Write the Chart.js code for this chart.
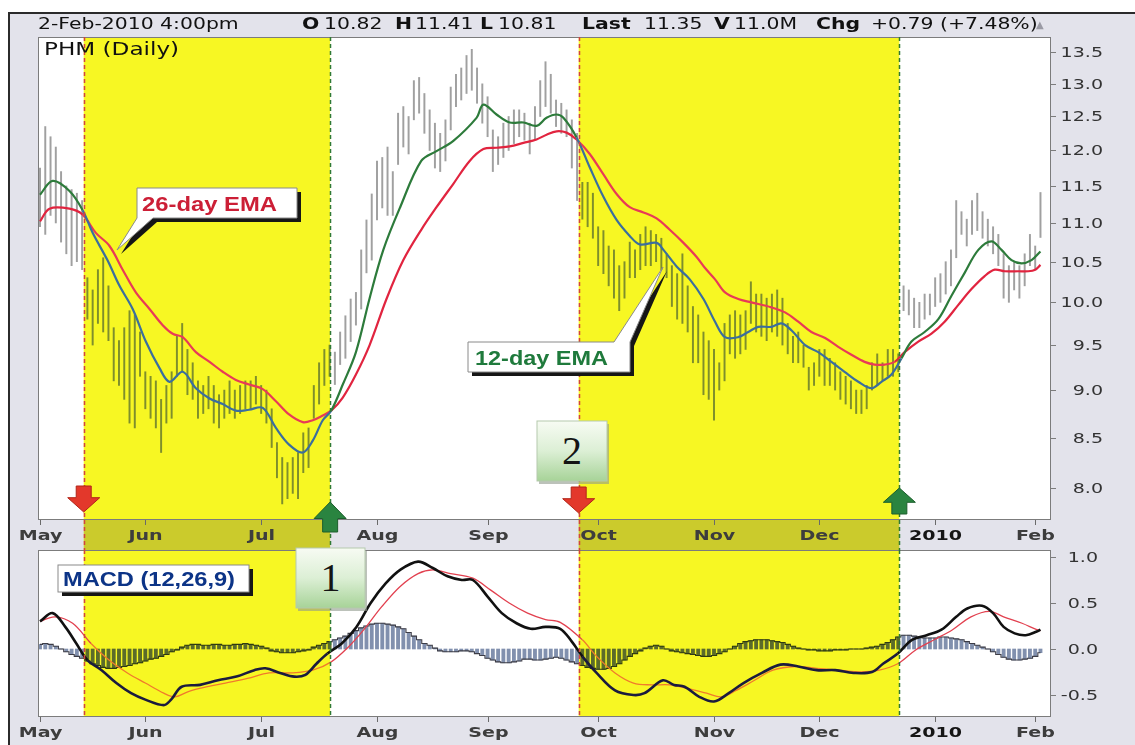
<!DOCTYPE html>
<html>
<head>
<meta charset="utf-8">
<title>PHM (Daily) - MACD centre line crossovers</title>
<script src="https://cdn.jsdelivr.net/npm/chart.js@4.4.1/dist/chart.umd.min.js"></script>
<style>
  html, body { margin: 0; padding: 0; background: #fff; }
  #page { position: relative; width: 1135px; height: 745px; overflow: hidden; }
  #frame { position: absolute; left: 8px; top: 12px; right: 0; bottom: 0; background: #e3e3eb;
           border-top: 2px solid #2b2b2b; border-left: 2px solid #2b2b2b; }
  canvas, svg { position: absolute; left: 0; top: 0; }
</style>
</head>
<body>
<div id="page">
  <div id="frame"></div>
  <canvas id="price" width="1135" height="745"></canvas>
  <canvas id="macd" width="1135" height="745"></canvas>
  <svg id="notes" width="1135" height="745">
    <defs>
      <linearGradient id="mint" x1="0" y1="0" x2="0" y2="1">
        <stop offset="0" stop-color="#f7fbf3"/>
        <stop offset="0.5" stop-color="#dcefd5"/>
        <stop offset="1" stop-color="#a7d398"/>
      </linearGradient>
    </defs>
    <!-- quote line -->
    <g font-family="DejaVu Sans, sans-serif" font-size="15" fill="#111">
      <text transform="translate(38 29) scale(1.36 1)">2-Feb-2010 4:00pm</text>
      <text transform="translate(302 29) scale(1.36 1)" font-weight="bold">O</text>
      <text transform="translate(324 29) scale(1.36 1)">10.82</text>
      <text transform="translate(395 29) scale(1.36 1)" font-weight="bold">H</text>
      <text transform="translate(415 29) scale(1.36 1)">11.41</text>
      <text transform="translate(480 29) scale(1.36 1)" font-weight="bold">L</text>
      <text transform="translate(498 29) scale(1.36 1)">10.81</text>
      <text transform="translate(582 29) scale(1.36 1)" font-weight="bold">Last</text>
      <text transform="translate(644 29) scale(1.36 1)">11.35</text>
      <text transform="translate(714 29) scale(1.36 1)" font-weight="bold">V</text>
      <text transform="translate(734 29) scale(1.36 1)">11.0M</text>
      <text transform="translate(816 29) scale(1.36 1)" font-weight="bold">Chg</text>
      <text transform="translate(871 29) scale(1.36 1)">+0.79 (+7.48%)</text>
      <text x="1036" y="28" font-size="10" fill="#9a9aa4">▲</text>
      <text transform="translate(44 55) scale(1.36 1)" font-size="17">PHM (Daily)</text>
    </g>
    <!-- callouts -->
    <g font-family="Liberation Sans, Arial, sans-serif" font-weight="bold" font-size="20">
      <path d="M141 192 H301 V222 H157 L121 254 L141 222 Z" fill="#161616"/>
      <path d="M137 188 H297 V218 H153 L117 250 L137 218 Z" fill="#fff" stroke="#8a8a8a" stroke-width="1"/>
      <text x="142" y="211" fill="#cc1f36" textLength="135" lengthAdjust="spacingAndGlyphs">26-day EMA</text>

      <path d="M472 346 H618 L667 271 L634 346 V376 H472 Z" fill="#161616"/>
      <path d="M468 342 H614 L663 267 L630 342 V372 H468 Z" fill="#fff" stroke="#8a8a8a" stroke-width="1"/>
      <text x="475" y="365" fill="#1f7a3c" textLength="133" lengthAdjust="spacingAndGlyphs">12-day EMA</text>

      <rect x="62" y="569" width="191" height="27" fill="#161616"/>
      <rect x="58" y="565" width="191" height="27" fill="#fff" stroke="#8a8a8a" stroke-width="1"/>
      <text x="63" y="586" fill="#0c3487" textLength="172" lengthAdjust="spacingAndGlyphs">MACD (12,26,9)</text>
    </g>
    <g font-family="Liberation Serif, serif" font-size="40" fill="#141414" text-anchor="middle">
      <rect x="298" y="551" width="69" height="60" fill="#8f9a8c" opacity="0.6"/>
      <rect x="296" y="548" width="69" height="60" fill="url(#mint)" stroke="#b5c9ad" stroke-width="1"/>
      <text x="330.5" y="591">1</text>
      <rect x="539" y="424" width="70" height="60" fill="#8f9a8c" opacity="0.6"/>
      <rect x="537" y="421" width="70" height="60" fill="url(#mint)" stroke="#b5c9ad" stroke-width="1"/>
      <text x="572" y="464">2</text>
    </g>
  </svg>
</div>
<script>
// trading-day index: 0 = 1 May 2009 ... 190 = 2 Feb 2010
const monthDays   = [0, 20, 42, 64, 85, 106, 128, 148, 170, 189];
const monthLabels = ['May', 'Jun', 'Jul', 'Aug', 'Sep', 'Oct', 'Nov', 'Dec', '2010', 'Feb'];
const priceTicks  = [8.0, 8.5, 9.0, 9.5, 10.0, 10.5, 11.0, 11.5, 12.0, 12.5, 13.0, 13.5];
const macdTicks   = [-0.5, 0.0, 0.5, 1.0];

// MACD crossing the centre line: sell (red) then buy (green)
const sellDays = [8.3, 102.3];
const buyDays  = [55.1, 163.2];

// daily high-low bars
const barLow = [
  10.95, 10.85, 11.10, 11.00, 10.75, 10.60, 10.45, 10.50, 10.40, 9.80,
  9.50, 9.75, 9.65, 9.55, 9.10, 9.05, 8.90, 8.65, 8.60, 9.15,
  8.80, 8.70, 8.60, 8.35, 8.65, 8.70, 9.15, 9.20, 8.95, 8.90,
  8.70, 8.75, 8.80, 8.65, 8.60, 8.70, 8.75, 8.70, 8.75, 8.80,
  8.80, 8.85, 8.75, 8.65, 8.40, 8.10, 7.85, 7.90, 7.95, 7.90,
  8.15, 8.20, 8.70, 8.85, 9.05, 9.15, 9.06, 9.28, 9.35, 9.54,
  9.73, 9.92, 10.36, 10.52, 11.04, 11.20, 11.10, 11.10, 11.80, 12.05,
  11.95, 12.45, 12.55, 12.25, 12.00, 11.75, 11.70, 11.85, 12.30, 12.65,
  12.75, 12.85, 12.90, 12.70, 12.40, 12.20, 11.70, 11.80, 11.90, 12.00,
  12.10, 12.20, 12.15, 11.95, 12.15, 12.50, 12.65, 12.55, 12.35, 12.25,
  12.20, 11.75, 11.30, 11.05, 10.95, 10.80, 10.45, 10.35, 10.20, 10.05,
  9.90, 10.05, 10.30, 10.30, 10.40, 10.45, 10.45, 10.50, 10.40, 10.30,
  9.95, 9.80, 9.75, 9.65, 9.30, 9.30, 8.95, 8.90, 8.68, 9.00,
  9.10, 9.40, 9.35, 9.40, 9.45, 9.75, 9.65, 9.60, 9.55, 9.65,
  9.60, 9.50, 9.40, 9.30, 9.30, 9.25, 9.00, 9.05, 9.15, 9.05,
  9.05, 9.00, 8.90, 8.85, 8.80, 8.75, 8.75, 8.80, 9.00, 9.05,
  9.10, 9.15, 9.15, 9.20, 9.90, 9.85, 9.70, 9.70, 9.80, 9.85,
  9.95, 10.00, 10.10, 10.20, 10.55, 10.85, 10.70, 10.85, 10.90, 10.80,
  10.70, 10.60, 10.45, 10.05, 10.00, 10.15, 10.05, 10.20, 10.45, 10.40,
  10.81
];
const barHigh = [
  11.75, 12.35, 12.20, 12.05, 11.70, 11.50, 11.45, 11.40, 11.30, 10.30,
  10.15, 10.40, 10.55, 10.20, 9.70, 9.55, 9.70, 9.90, 9.85, 9.65,
  9.20, 9.15, 9.10, 8.90, 9.05, 9.20, 9.60, 9.75, 9.45, 9.30,
  9.10, 9.05, 9.15, 9.05, 8.95, 9.00, 9.10, 9.00, 9.05, 9.10,
  9.10, 9.15, 9.05, 9.00, 8.80, 8.45, 8.30, 8.25, 8.30, 8.35,
  8.55, 8.60, 9.05, 9.30, 9.45, 9.50, 9.42, 9.65, 9.84, 10.04,
  10.12, 10.65, 11.04, 11.39, 11.85, 11.90, 12.05, 11.70, 12.55, 12.65,
  12.50, 13.05, 13.10, 12.85, 12.60, 12.40, 12.25, 12.45, 12.95, 13.15,
  13.25, 13.45, 13.55, 13.25, 13.00, 12.80, 12.30, 12.20, 12.40, 12.50,
  12.60, 12.60, 12.55, 12.40, 12.65, 13.05, 13.35, 13.15, 12.75, 12.70,
  12.60, 12.45, 12.25, 11.55, 11.55, 11.40, 10.95, 10.90, 10.70, 10.65,
  10.45, 10.50, 10.75, 10.65, 10.85, 10.95, 10.90, 10.85, 10.80, 10.60,
  10.45, 10.35, 10.60, 10.20, 9.95, 9.85, 9.65, 9.55, 9.45, 9.30,
  9.75, 9.85, 9.90, 9.85, 9.90, 10.25, 10.10, 10.10, 10.05, 10.10,
  10.15, 10.05, 9.75, 9.60, 9.65, 9.50, 9.25, 9.30, 9.45, 9.45,
  9.35, 9.30, 9.20, 9.15, 9.10, 9.00, 9.00, 9.05, 9.30, 9.40,
  9.30, 9.45, 9.45, 9.40, 10.20, 10.15, 10.05, 10.00, 10.10, 10.10,
  10.30, 10.35, 10.50, 10.65, 11.30, 11.15, 11.05, 11.30, 11.40, 11.15,
  11.05, 10.95, 10.85, 10.60, 10.45, 10.50, 10.45, 10.60, 10.85, 10.70,
  11.41
];

// moving averages (read at irregular days)
const ema12Days = [0, 2.4, 5.6, 8.1, 10, 12.8, 15.1, 17.6, 20.1, 22.7, 24.6, 27.1, 29.6, 32.2, 34.7, 37.2, 39.7, 42.3, 44.8, 47.3, 49.9, 51.8, 53.7, 55.3, 57.5, 60, 62.6, 65.2, 68.4, 72.4, 75.3, 78.5, 82.9, 84.2, 86.7, 89.2, 91.8, 94.3, 96.2, 98.1, 99.4, 101.9, 104.4, 107, 109.5, 112, 113.9, 117.1, 118.4, 120.9, 123.4, 126, 128.2, 130.1, 132.6, 134.5, 136.4, 138.9, 140.8, 142.7, 145.3, 147.8, 150.3, 152.8, 155.4, 157.9, 159.8, 161.7, 163.6, 165.5, 168, 170.6, 173.1, 175.6, 178.2, 180.7, 182.6, 184.5, 186.4, 188.3, 190];
const ema12Vals = [11.38, 11.57, 11.43, 11.17, 10.87, 10.52, 10.20, 9.92, 9.54, 9.24, 9.09, 9.20, 9.02, 8.91, 8.85, 8.78, 8.79, 8.81, 8.60, 8.43, 8.35, 8.47, 8.68, 8.78, 9.06, 9.42, 10.05, 10.65, 11.21, 11.85, 11.99, 12.14, 12.48, 12.68, 12.53, 12.41, 12.41, 12.36, 12.48, 12.53, 12.48, 12.19, 11.76, 11.35, 11.04, 10.83, 10.72, 10.74, 10.65, 10.44, 10.28, 10.04, 9.77, 9.59, 9.59, 9.65, 9.71, 9.71, 9.75, 9.67, 9.50, 9.42, 9.31, 9.20, 9.09, 9.02, 9.09, 9.17, 9.35, 9.54, 9.65, 9.80, 10.08, 10.36, 10.65, 10.76, 10.65, 10.52, 10.48, 10.52, 10.63];
const ema26Days = [0, 1.8, 5.6, 8.1, 10.6, 13.2, 15.7, 18.2, 20.8, 23.3, 25.2, 27.1, 29.6, 32.2, 34.7, 37.2, 39.7, 42.3, 44.8, 47.3, 49.9, 51.8, 53.7, 55.3, 57.5, 60, 62.6, 65.8, 69, 72.4, 75.3, 78.5, 81.6, 84.2, 86.7, 89.2, 91.8, 94.3, 96.2, 98.1, 100, 101.9, 104.4, 107, 109.5, 112, 114.6, 117.1, 119.6, 122.2, 124.7, 126.3, 128.2, 130.1, 132.6, 135.1, 138.9, 141.5, 144, 146.5, 149.1, 151.6, 154.1, 156.6, 158.5, 160.4, 162.3, 164.2, 166.8, 169.3, 171.8, 174.4, 176.9, 179.4, 181.3, 183.2, 185.8, 187.7, 189, 190];
const ema26Vals = [11.02, 11.19, 11.19, 11.11, 10.87, 10.70, 10.40, 10.12, 9.92, 9.73, 9.63, 9.59, 9.42, 9.31, 9.20, 9.11, 9.06, 9.01, 8.88, 8.74, 8.66, 8.68, 8.73, 8.78, 8.92, 9.17, 9.50, 10.04, 10.52, 10.91, 11.21, 11.53, 11.85, 12.02, 12.04, 12.06, 12.11, 12.16, 12.23, 12.28, 12.26, 12.16, 11.95, 11.66, 11.39, 11.21, 11.14, 11.06, 10.91, 10.74, 10.56, 10.42, 10.28, 10.12, 10.04, 10.00, 9.94, 9.88, 9.77, 9.65, 9.58, 9.48, 9.39, 9.31, 9.28, 9.28, 9.31, 9.42, 9.54, 9.63, 9.77, 9.97, 10.16, 10.32, 10.40, 10.38, 10.38, 10.38, 10.40, 10.46];

// MACD (12,26,9)
const macdDays = [0, 2.4, 4.8, 6.9, 9, 11.7, 14.5, 17.3, 20, 23.5, 24.9, 26.9, 30.4, 33.8, 37.3, 40.7, 42.8, 45.6, 48.3, 50.4, 52.5, 54.6, 57.3, 60.1, 62.8, 65.6, 68.4, 71.8, 74.6, 77.4, 80.1, 82.2, 85, 87.7, 90.5, 93.2, 96, 98.8, 101, 103, 105.7, 109.2, 112.7, 114.8, 118.3, 120.4, 122.4, 125.2, 128, 130.8, 133.6, 137.1, 140.6, 144, 147.5, 151, 154.5, 158, 160.1, 162.9, 165.6, 168.4, 171.2, 174, 176.1, 178.9, 181, 183, 185.1, 187.2, 189.3, 190];
const macdVals = [0.30, 0.39, 0.24, 0.06, -0.12, -0.23, -0.37, -0.48, -0.55, -0.61, -0.55, -0.41, -0.39, -0.34, -0.30, -0.23, -0.21, -0.26, -0.30, -0.28, -0.16, -0.05, 0.06, 0.24, 0.50, 0.71, 0.86, 0.95, 0.88, 0.79, 0.75, 0.75, 0.57, 0.39, 0.28, 0.22, 0.24, 0.22, 0.08, -0.08, -0.26, -0.45, -0.50, -0.48, -0.34, -0.39, -0.41, -0.52, -0.57, -0.48, -0.37, -0.26, -0.17, -0.19, -0.23, -0.23, -0.26, -0.25, -0.16, -0.05, 0.10, 0.15, 0.21, 0.35, 0.44, 0.47, 0.39, 0.24, 0.17, 0.15, 0.19, 0.21];
const signalDays = [0, 2.8, 6.2, 9.7, 13.1, 16.6, 20, 23.5, 25.6, 28.3, 31.8, 35.2, 39.4, 43.5, 47.7, 51.8, 55.3, 58.7, 61.5, 64.9, 68.4, 71.8, 74.6, 78, 82.2, 85.6, 89.1, 92.6, 96, 98.8, 103, 105.7, 109.2, 112.7, 116.2, 119.6, 123.1, 126.6, 129.4, 132.2, 135.7, 139.2, 143.4, 147.5, 151.7, 155.9, 159.4, 162.9, 166.3, 169.8, 173.3, 176.8, 180.3, 183, 186.5, 189.3, 190];
const signalVals = [0.30, 0.35, 0.28, 0.06, -0.12, -0.26, -0.37, -0.48, -0.52, -0.46, -0.41, -0.37, -0.32, -0.26, -0.26, -0.23, -0.14, 0.03, 0.21, 0.46, 0.68, 0.82, 0.86, 0.82, 0.77, 0.64, 0.50, 0.39, 0.32, 0.29, 0.10, -0.08, -0.26, -0.37, -0.39, -0.39, -0.43, -0.48, -0.52, -0.45, -0.34, -0.23, -0.19, -0.21, -0.23, -0.25, -0.23, -0.16, -0.01, 0.10, 0.21, 0.35, 0.41, 0.35, 0.28, 0.21, 0.20];
// histogram, one value per trading day
const histVals = [
  0.05, 0.06, 0.05, 0.03, 0.00, -0.03, -0.06, -0.08, -0.10,
  -0.13, -0.16, -0.18, -0.20, -0.21, -0.21, -0.20, -0.19,
  -0.18, -0.16, -0.15, -0.13, -0.11, -0.10, -0.08, -0.06, -0.03, -0.01,
  0.02, 0.04, 0.05, 0.05, 0.04, 0.04, 0.05, 0.05, 0.04, 0.04,
  0.05, 0.05, 0.06, 0.05, 0.04, 0.03, 0.01, -0.02,
  -0.03, -0.04, -0.04, -0.04, -0.03, -0.02, -0.01,
  0.02, 0.04, 0.06, 0.08, 0.10,
  0.12, 0.14, 0.17, 0.20, 0.23, 0.25, 0.27,
  0.28, 0.28, 0.27, 0.26, 0.24, 0.22,
  0.18, 0.14, 0.10, 0.06, 0.04, 0.01,
  -0.02, -0.03, -0.03, -0.03, -0.02, -0.02, -0.03, -0.05, -0.07,
  -0.10, -0.12, -0.14, -0.15, -0.15, -0.14, -0.13, -0.11, -0.11, -0.12, -0.12,
  -0.11, -0.10, -0.09, -0.10, -0.12, -0.14,
  -0.16, -0.18, -0.20, -0.21, -0.22, -0.22, -0.21, -0.19, -0.16,
  -0.12, -0.08, -0.05, -0.02, 0.01, 0.03, 0.04, 0.03,
  0.00, -0.02, -0.03, -0.04, -0.05, -0.06, -0.07, -0.08, -0.08, -0.07, -0.05, -0.03, 0.00,
  0.03, 0.06, 0.08, 0.09, 0.10, 0.10, 0.10, 0.09, 0.08, 0.07, 0.05, 0.03, 0.01,
  0.00, -0.01, -0.01, -0.02, -0.02, -0.02, -0.01, -0.01, -0.01, 0.00, 0.00, 0.00, 0.01, 0.02, 0.03, 0.05,
  0.07, 0.10, 0.13, 0.15, 0.15, 0.14, 0.13, 0.12, 0.12, 0.12, 0.13,
  0.13, 0.12, 0.11, 0.10, 0.08, 0.06, 0.04, 0.02, 0.00, -0.03,
  -0.06, -0.09, -0.11, -0.12, -0.12, -0.11, -0.10, -0.08, -0.04
];

const YELLOW = '#f7f723';
const GAP = 30;      // date strip between the two panels
const SX = 1.36;     // the picture is stretched sideways

function inSignal(d) {
  for (let k = 0; k < sellDays.length; k++) {
    if (d >= sellDays[k] && d <= buyDays[k]) return true;
  }
  return false;
}

function series(days, vals) {
  return days.map((d, i) => ({ x: d, y: vals[i] }));
}

function twoTone(plain, lit) {
  return c => inSignal((c.p0.parsed.x + c.p1.parsed.x) / 2) ? lit : plain;
}

function wideText(ctx, txt, x, y, align, font, color) {
  ctx.save();
  ctx.font = font;
  ctx.fillStyle = color;
  ctx.textBaseline = 'middle';
  ctx.textAlign = 'left';
  const w = ctx.measureText(txt).width * SX;
  const left = align === 'right' ? x - w : align === 'center' ? x - w / 2 : x;
  ctx.translate(left, y);
  ctx.scale(SX, 1);
  ctx.fillText(txt, 0, 0);
  ctx.restore();
}

function signalLines(ctx, x, top, bottom) {
  ctx.save();
  ctx.lineWidth = 1.5;
  ctx.setLineDash([4, 3]);
  sellDays.forEach(d => {
    const px = Math.round(x.getPixelForValue(d)) + 0.5;
    ctx.strokeStyle = '#d2433f';
    ctx.beginPath(); ctx.moveTo(px, top); ctx.lineTo(px, bottom); ctx.stroke();
  });
  buyDays.forEach(d => {
    const px = Math.round(x.getPixelForValue(d)) + 0.5;
    ctx.strokeStyle = '#2f7a35';
    ctx.beginPath(); ctx.moveTo(px, top); ctx.lineTo(px, bottom); ctx.stroke();
  });
  ctx.restore();
}

function monthRow(ctx, x, axisY, labelY) {
  ctx.save();
  ctx.strokeStyle = '#6a6a6a';
  ctx.lineWidth = 1;
  monthDays.forEach((d, i) => {
    const px = Math.round(x.getPixelForValue(d)) + 0.5;
    ctx.beginPath(); ctx.moveTo(px, axisY); ctx.lineTo(px, axisY + 5); ctx.stroke();
    const isYear = monthLabels[i] === '2010';
    wideText(ctx, monthLabels[i], px, labelY, 'center',
      'bold 14px "DejaVu Sans"', isYear ? '#151515' : '#3d3d3d');
  });
  ctx.restore();
}

function arrow(ctx, cx, top, h, down, fill, edge) {
  const sw = 7.5, hw = 16, hh = h * 0.55;
  ctx.save();
  ctx.beginPath();
  if (down) {
    ctx.moveTo(cx - sw, top); ctx.lineTo(cx + sw, top); ctx.lineTo(cx + sw, top + h - hh);
    ctx.lineTo(cx + hw, top + h - hh); ctx.lineTo(cx, top + h); ctx.lineTo(cx - hw, top + h - hh);
    ctx.lineTo(cx - sw, top + h - hh);
  } else {
    const bot = top + h;
    ctx.moveTo(cx - sw, bot); ctx.lineTo(cx + sw, bot); ctx.lineTo(cx + sw, top + hh);
    ctx.lineTo(cx + hw, top + hh); ctx.lineTo(cx, top); ctx.lineTo(cx - hw, top + hh);
    ctx.lineTo(cx - sw, top + hh);
  }
  ctx.closePath();
  ctx.fillStyle = fill;
  ctx.fill();
  ctx.strokeStyle = edge;
  ctx.lineWidth = 1;
  ctx.stroke();
  ctx.restore();
}

function panelBack(chart, withStrip) {
  const { ctx, chartArea: a, scales: { x } } = chart;
  ctx.save();
  ctx.fillStyle = '#ffffff';
  ctx.fillRect(a.left, a.top, a.right - a.left, a.bottom - a.top);
  sellDays.forEach((d, k) => {
    const x0 = x.getPixelForValue(d), x1 = x.getPixelForValue(buyDays[k]);
    ctx.fillStyle = YELLOW;
    ctx.fillRect(x0, a.top, x1 - x0, a.bottom - a.top);
    if (withStrip) {
      ctx.fillStyle = '#cbcb2c';
      ctx.fillRect(x0, a.bottom, x1 - x0, GAP);
    }
  });
  ctx.restore();
}

function frameAndTicks(chart, ticks, labelRight) {
  const { ctx, chartArea: a, scales: { y } } = chart;
  ctx.save();
  ctx.strokeStyle = '#7c7c7c';
  ctx.lineWidth = 1;
  ctx.strokeRect(a.left + 0.5, a.top + 0.5, a.right - a.left - 1, a.bottom - a.top - 1);
  ticks.forEach(v => {
    const py = Math.round(y.getPixelForValue(v)) + 0.5;
    ctx.beginPath(); ctx.moveTo(a.right, py); ctx.lineTo(a.right + 5, py); ctx.stroke();
    wideText(ctx, v.toFixed(1), labelRight, py + 1, 'right', '14px "DejaVu Sans"', '#333');
  });
  ctx.restore();
}

const pricePanel = {
  id: 'pricePanel',
  beforeDatasetsDraw(chart) { panelBack(chart, true); },
  afterDatasetsDraw(chart) {
    const { ctx, chartArea: a, scales: { x } } = chart;
    frameAndTicks(chart, priceTicks, 1103);
    signalLines(ctx, x, a.top, a.bottom + GAP);
    const sellTop = [a.bottom - 34, a.bottom - 33];
    const buyTop = [a.bottom - 18, a.bottom - 32];
    sellDays.forEach((d, k) => arrow(ctx, x.getPixelForValue(d), sellTop[k], 26, true, '#e3382b', '#b22418'));
    buyDays.forEach((d, k) => arrow(ctx, x.getPixelForValue(d), buyTop[k], k === 0 ? 30 : 26, false, '#2a8440', '#1c5e2c'));
    monthRow(ctx, x, a.bottom, a.bottom + 16);
  }
};

const macdPanel = {
  id: 'macdPanel',
  beforeDatasetsDraw(chart) { panelBack(chart, false); },
  afterDatasetsDraw(chart) {
    const { ctx, chartArea: a, scales: { x } } = chart;
    frameAndTicks(chart, macdTicks, 1098);
    signalLines(ctx, x, a.top, a.bottom);
    monthRow(ctx, x, a.bottom, a.bottom + 16);
  }
};

function options(pad, yScale) {
  return {
    responsive: false,
    animation: false,
    events: [],
    layout: { padding: pad },
    plugins: { legend: { display: false }, tooltip: { enabled: false } },
    scales: {
      x: { type: 'linear', min: -0.38, max: 192, display: false, offset: false },
      y: Object.assign({ display: false }, yScale)
    }
  };
}

new Chart(document.getElementById('price'), {
  type: 'line',
  data: {
    datasets: [
      {
        type: 'line', label: '12-day EMA', data: series(ema12Days, ema12Vals),
        borderColor: '#2d7b3b', borderWidth: 2.2, pointRadius: 0, tension: 0.35,
        segment: { borderColor: twoTone('#2d7b3b', '#3b6e9e') }, order: 1
      },
      {
        type: 'line', label: '26-day EMA', data: series(ema26Days, ema26Vals),
        borderColor: '#e1243f', borderWidth: 2.2, pointRadius: 0, tension: 0.35,
        segment: { borderColor: twoTone('#e1243f', '#e83a57') }, order: 2
      },
      {
        type: 'bar', label: 'PHM', data: barLow.map((lo, i) => ({ x: i, y: [lo, barHigh[i]] })),
        backgroundColor: c => (c.raw && inSignal(c.raw.x)) ? '#7e8e2c' : '#a0a0a0',
        barThickness: 1.3, order: 3
      }
    ]
  },
  options: options({ left: 38, top: 37, right: 84, bottom: 225 },
    { type: 'logarithmic', min: 7.737, max: 13.752 }),
  plugins: [pricePanel]
});

new Chart(document.getElementById('macd'), {
  type: 'line',
  data: {
    datasets: [
      {
        type: 'line', label: 'MACD', data: series(macdDays, macdVals),
        borderColor: '#111111', borderWidth: 2.6, pointRadius: 0, tension: 0.35,
        segment: { borderColor: twoTone('#111111', '#1b1b3e') }, order: 1
      },
      {
        type: 'line', label: 'Signal', data: series(signalDays, signalVals),
        borderColor: '#e2404f', borderWidth: 1.3, pointRadius: 0, tension: 0.35,
        segment: { borderColor: twoTone('#e2404f', '#f07a2c') }, order: 2
      },
      {
        type: 'line', label: 'Histogram edge', data: histVals.map((h, i) => ({ x: i, y: h })),
        borderColor: '#3c3c46', borderWidth: 1.1, pointRadius: 0, stepped: 'middle',
        segment: { borderColor: twoTone('#3c3c46', '#2f3a12') }, order: 3
      },
      {
        type: 'bar', label: 'Histogram', data: histVals.map((h, i) => ({ x: i, y: h })),
        backgroundColor: c => (c.raw && inSignal(c.raw.x)) ? '#5b6b2a' : '#8190ae',
        barThickness: 3.2, order: 4
      }
    ]
  },
  options: options({ left: 38, top: 550, right: 84, bottom: 28 },
    { type: 'linear', min: -0.739, max: 1.076 }),
  plugins: [macdPanel]
});
</script>
</body>
</html>
